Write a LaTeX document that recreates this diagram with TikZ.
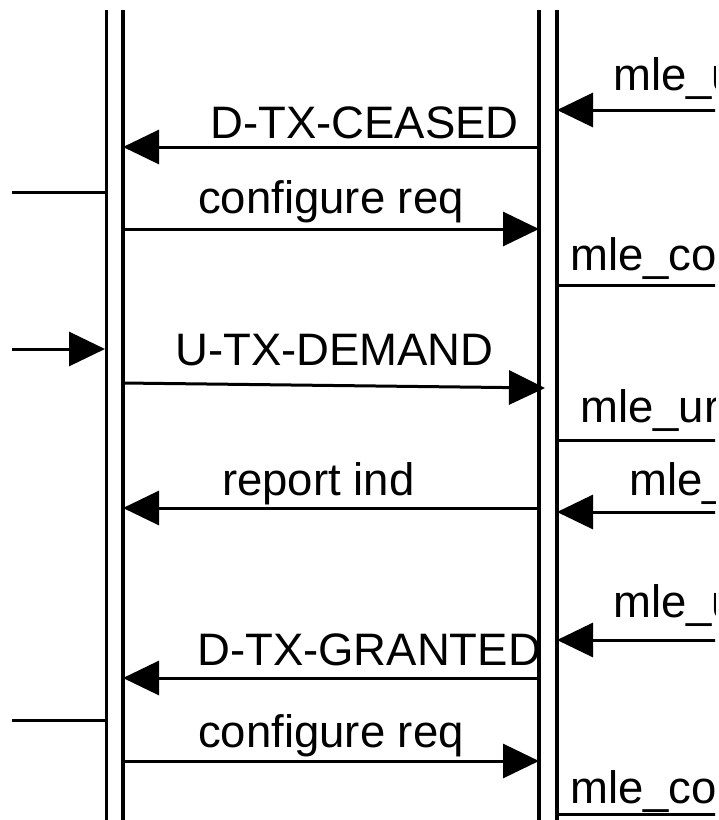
\documentclass[tikz,border=0pt]{standalone}
\usepackage{fontspec}
\setmainfont{Liberation Sans}
\usetikzlibrary{arrows.meta}
\tikzset{
  life/.style={line width=3.2pt},
  msg/.style={line width=3pt},
  arr/.style={msg,-{Triangle[length=36pt,width=34pt]}},
  lbl/.style={inner sep=0pt,anchor=base west,font=\fontsize{45.5}{50}\selectfont},
}
\begin{document}
\begin{tikzpicture}[x=1pt,y=-1pt]
\useasboundingbox (0,0) rectangle (719,820);
\clip (0,0) rectangle (715,820);
% lifelines
\coordinate (LoT) at (106.5,10); \coordinate (LoB) at (106.5,825);
\coordinate (LiT) at (123,10);   \coordinate (LiB) at (123,825);
\coordinate (RiT) at (539,10);   \coordinate (RiB) at (539,825);
\coordinate (RoT) at (557,10);   \coordinate (RoB) at (557,825);
\draw[life] (LoT) -- (LoB);
\draw[life] (LiT) -- (LiB);
\draw[life] (RiT) -- (RiB);
\draw[life] (RoT) -- (RoB);
% message end points
\coordinate (m1s) at (730,110); \coordinate (m1e) at (557,110);
\coordinate (a1s) at (539,147); \coordinate (a1e) at (123,147);
\coordinate (s1s) at (12,192);  \coordinate (s1e) at (106.5,192);
\coordinate (a2s) at (123,229); \coordinate (a2e) at (539,229);
\coordinate (m2s) at (557,285); \coordinate (m2e) at (730,285);
\coordinate (s2s) at (12,349);  \coordinate (s2e) at (105,349);
\coordinate (a3s) at (123,383); \coordinate (a3e) at (545,388);
\coordinate (m3s) at (557,440); \coordinate (m3e) at (730,440);
\coordinate (a4s) at (539,508); \coordinate (a4e) at (123,508);
\coordinate (m4s) at (730,512); \coordinate (m4e) at (557,512);
\coordinate (m5s) at (730,640); \coordinate (m5e) at (557,640);
\coordinate (a5s) at (539,678); \coordinate (a5e) at (123,678);
\coordinate (s3s) at (12,720);  \coordinate (s3e) at (106.5,720);
\coordinate (a6s) at (123,761); \coordinate (a6e) at (539,761);
\coordinate (m6s) at (557,814); \coordinate (m6e) at (730,814);
% connectors
\draw[arr] (m1s) -- (m1e);
\draw[arr] (a1s) -- (a1e);
\draw[msg] (s1s) -- (s1e);
\draw[arr] (a2s) -- (a2e);
\draw[msg] (m2s) -- (m2e);
\draw[arr] (s2s) -- (s2e);
\draw[arr] (a3s) -- (a3e);
\draw[msg] (m3s) -- (m3e);
\draw[arr] (a4s) -- (a4e);
\draw[arr] (m4s) -- (m4e);
\draw[arr] (m5s) -- (m5e);
\draw[arr] (a5s) -- (a5e);
\draw[msg] (s3s) -- (s3e);
\draw[arr] (a6s) -- (a6e);
\draw[msg] (m6s) -- (m6e);
% labels
\node[lbl] (t1) at (613,90) {mle\_u};
\node[lbl] (t2) at (210,138) {D-TX-CEASED};
\node[lbl] (t3) at (198,213) {configure req};
\node[lbl] (t4) at (570,270) {mle\_co};
\node[lbl] (t5) at (175,365) {U-TX-DEMAND};
\node[lbl] (t6) at (580,422) {mle\_ur};
\node[lbl] (t7) at (222,495) {report ind};
\node[lbl] (t8) at (629,495) {mle\_};
\node[lbl] (t9) at (613,617) {mle\_u};
\node[lbl] (t10) at (197,665) {D-TX-GRANTED};
\node[lbl] (t11) at (198,747) {configure req};
\node[lbl] (t12) at (570,803) {mle\_co};
\end{tikzpicture}
\end{document}
